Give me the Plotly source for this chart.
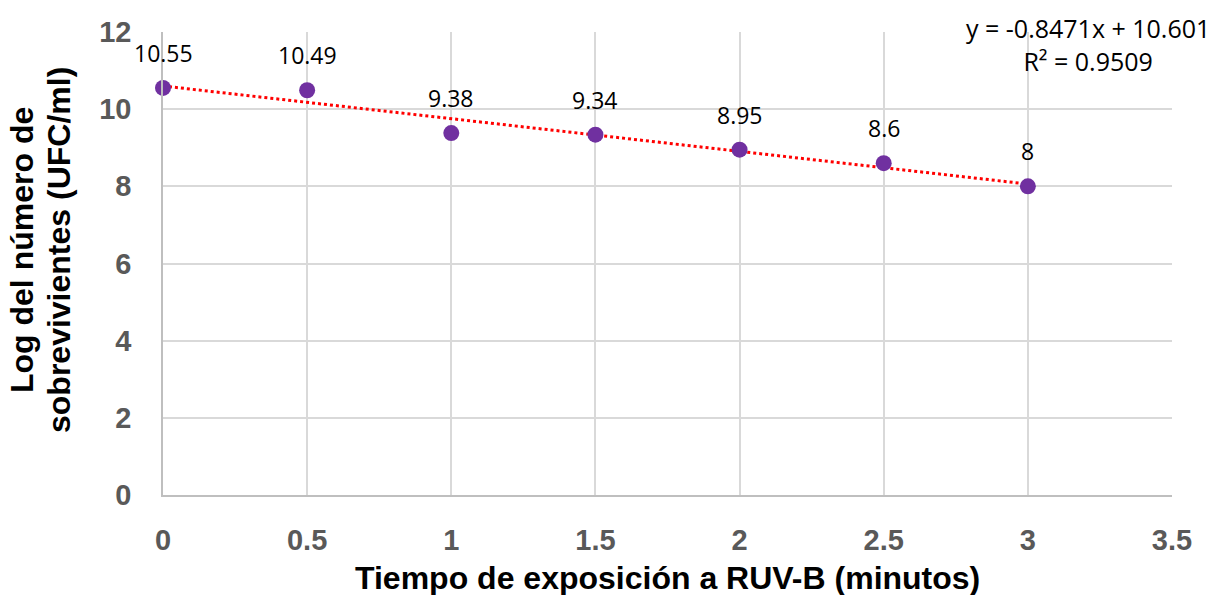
import numpy as np
import plotly.graph_objects as go

tiempo = [0, 0.5, 1, 1.5, 2, 2.5, 3]
log_sobrevivientes = [10.55, 10.49, 9.38, 9.34, 8.95, 8.6, 8]
x_ticks = [0, 0.5, 1, 1.5, 2, 2.5, 3, 3.5]
y_ticks = [0, 2, 4, 6, 8, 10, 12]
equation_text = "y = -0.8471x + 10.601<br>R² = 0.9509"
x_title = "Tiempo de exposición a RUV-B (minutos)"
y_title_lines = ["Log del número de", "sobrevivientes (UFC/ml)"]

slope, intercept = np.polyfit(tiempo, log_sobrevivientes, 1)
trend_x = [tiempo[0], tiempo[-1]]
trend_y = [slope * v + intercept for v in trend_x]

fig = go.Figure()
fig.add_trace(go.Scatter(
    x=trend_x, y=trend_y, mode="lines",
    line=dict(color="#FF0000", width=3, dash="dot"),
    hoverinfo="skip", showlegend=False,
))
fig.add_trace(go.Scatter(
    x=tiempo, y=log_sobrevivientes, mode="markers",
    marker=dict(color="#7030A0", size=16),
    showlegend=False, cliponaxis=False,
))

label_font = dict(family="Open Sans", size=23, color="#000000", weight="normal")
for xv, yv in zip(tiempo, log_sobrevivientes):
    fig.add_annotation(
        x=xv, y=yv, xref="x", yref="y", text=f"{yv:g}", showarrow=False,
        yshift=35, font=label_font,
    )

fig.add_annotation(
    x=(1088 - 163) / 1009, y=(495 - 9) / 463, xref="paper", yref="paper",
    text=equation_text,
    showarrow=False, xanchor="center", yanchor="top", align="center",
    font=dict(family="Open Sans", size=25, color="#000000", weight="normal"),
)

title_font = dict(family="Liberation Sans", size=32, color="#000000", weight="bold")
fig.add_annotation(
    x=0.5, y=-0.179, xref="paper", yref="paper",
    text=x_title, showarrow=False,
    xanchor="center", yanchor="middle",
    font=title_font,
)
for px, line in zip([22, 59], y_title_lines):
    fig.add_annotation(
        x=(px - 163) / 1009, y=(495 - 250) / 463, xref="paper", yref="paper",
        text=line, showarrow=False,
        xanchor="center", yanchor="middle", textangle=-90,
        font=title_font,
    )

axis_common = dict(
    showgrid=True, gridcolor="#D9D9D9", gridwidth=1.5,
    showline=True, linecolor="#BFBFBF", linewidth=1.5,
    zeroline=False, ticks="",
    tickfont=dict(family="Liberation Sans", size=29, color="#595959", weight="bold"),
)
fig.update_xaxes(range=[0, 3.5], tickvals=x_ticks, ticktext=[f"{v:g}" for v in x_ticks],
                 ticklabelstandoff=18, **axis_common)
fig.update_yaxes(range=[0, 12], tickvals=y_ticks, ticktext=[str(v) for v in y_ticks],
                 ticklabelstandoff=24, **axis_common)

fig.update_layout(
    width=1225, height=595,
    margin=dict(l=163, r=53, t=32, b=100),
    plot_bgcolor="#FFFFFF", paper_bgcolor="#FFFFFF",
)

fig.write_html("out.html")
